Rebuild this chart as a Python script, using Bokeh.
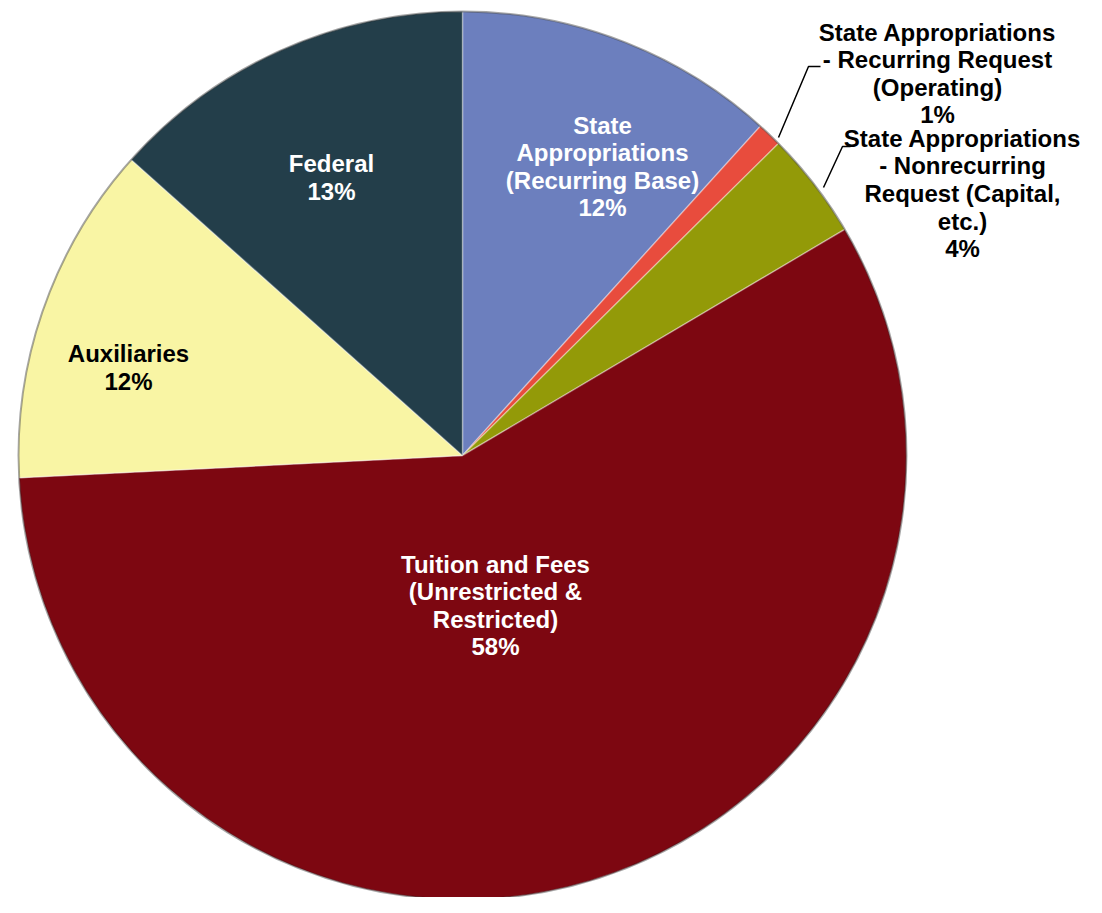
import math
from bokeh.plotting import figure
from bokeh.models import ColumnDataSource, Range1d
from bokeh.core.properties import value
from bokeh.embed import file_html
from bokeh.resources import INLINE

# ---- data ----
categories = [
    "State\nAppropriations\n(Recurring Base)",
    "State Appropriations\n- Recurring Request\n(Operating)",
    "State Appropriations\n- Nonrecurring\nRequest (Capital,\netc.)",
    "Tuition and Fees\n(Unrestricted &\nRestricted)",
    "Auxiliaries",
    "Federal",
]
shares = [11.7, 0.9, 3.9, 57.7, 12.4, 13.4]
colors = ["#6C7FBE", "#E84C3D", "#939A08", "#7D0711", "#F9F5A4", "#233E4A"]
label_colors = ["white", "black", "black", "white", "black", "white"]

# ---- layout (screen px) ----
W, H = 1086, 897
def sx(x):
    return x
def sy(y):
    return H - y

cx, cy, R = sx(462), sy(455), 444
# label block centres (screen px)
label_pos = [(602, 166), (937, 73), (962, 193), (495, 605), (128, 367), (331, 177)]

total = sum(shares)
starts, ends = [], []
acc = 0.0
for v in shares:
    a0 = acc / total
    acc += v
    a1 = acc / total
    # bokeh angles: counter-clockwise from +x; pie runs clockwise from 12 o'clock
    starts.append(math.pi / 2 - 2 * math.pi * a1)
    ends.append(math.pi / 2 - 2 * math.pi * a0)

p = figure(width=W, height=H, output_backend="svg", toolbar_location=None,
           x_range=Range1d(0, W), y_range=Range1d(0, H), min_border=0)
p.axis.visible = False
p.grid.visible = False
p.outline_line_color = None
p.background_fill_color = "white"

src = ColumnDataSource(dict(x=[cx] * len(shares), y=[cy] * len(shares),
                            start=starts, end=ends, color=colors))
p.wedge(x="x", y="y", radius=R, start_angle="start", end_angle="end",
        direction="anticlock", fill_color="color", line_color="#FFFFFF",
        line_alpha=0.35, line_width=1.5, source=src)
# darker rim
p.circle(x=[cx], y=[cy], radius=R, fill_color=None, line_color="black",
         line_alpha=0.35, line_width=2)

# leader lines for the two thin slices
p.line([sx(778), sx(808), sx(820)], [sy(137), sy(66), sy(66)], line_color="black", line_width=1.5)
p.line([sx(823), sx(842), sx(850)], [sy(187), sy(146), sy(146)], line_color="black", line_width=1.5)

texts = [f"{c}\n{round(v / total * 100)}%" for c, v in zip(categories, shares)]
tsrc = ColumnDataSource(dict(x=[sx(a) for a, b in label_pos], y=[sy(b) for a, b in label_pos],
                             text=texts, color=label_colors))
p.text(x="x", y="y", text="text", source=tsrc, text_color="color",
       text_font=value("Liberation Sans"), text_font_style="bold",
       text_font_size="24px", text_align="center", text_baseline="middle",
       text_line_height=1.02)

open("out.html", "w").write(file_html(p, INLINE))
